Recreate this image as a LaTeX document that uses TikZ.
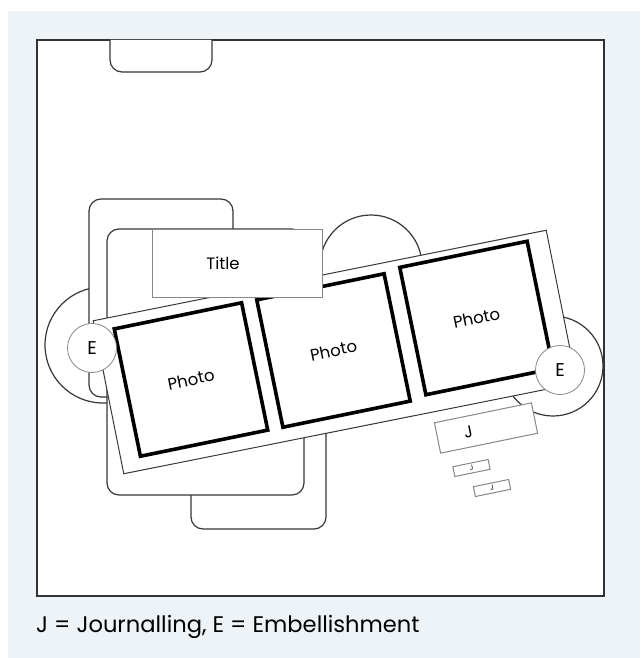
\documentclass[tikz,border=0pt]{standalone}
\usepackage{fontspec}
\setmainfont{Poppins}
\usetikzlibrary{positioning,calc}
\definecolor{panelbg}{RGB}{237,243,246}
\definecolor{inkgrey}{RGB}{55,55,55}
\definecolor{framegrey}{RGB}{50,50,50}
\definecolor{softgrey}{RGB}{135,135,135}
\tikzset{
  base/.style={font=\fontsize{16.5}{19}\selectfont, text=black, inner sep=0pt, align=center},
  mat/.style={draw=inkgrey, fill=white, line width=1.2pt, rounded corners=12pt},
  bump/.style={draw=inkgrey, fill=white, line width=1.2pt},
  card/.style={base, rectangle, draw=inkgrey, fill=white, line width=1pt, rotate=11.3, minimum width=462pt, minimum height=156pt},
  photo/.style={base, rectangle, draw=black, fill=white, line width=3.6pt, rotate=11.6, minimum width=130pt, minimum height=130pt},
  embel/.style={base, circle, draw=softgrey, fill=white, line width=0.8pt, minimum size=49pt, font=\fontsize{18.5}{21}\selectfont},
  titlebox/.style={base, rectangle, draw=softgrey, fill=white, line width=1pt, minimum width=170pt, minimum height=68pt},
  jbox/.style={base, rectangle, draw=softgrey, fill=white, line width=1pt, rotate=11.6},
  lbl/.style={base, font=\fontsize{22.6}{26}\selectfont},
}
\begin{document}
\begin{tikzpicture}[x=1pt,y=-1pt]
  \useasboundingbox (0,0) rectangle (640,658);
  \fill[white] (0,0) rectangle (640,658);
  \fill[panelbg] (8,11) rectangle (640,658);
  % page
  \draw[framegrey, fill=white, line width=1.8pt] (37,40) rectangle (604,596);
  \draw[mat] (110,40) -- (110,72) -- (212,72) -- (212,40);
  % half circles behind
  \draw[bump] (103,345) circle[radius=58pt];
  \draw[bump] (371,266) circle[radius=51pt];
  \draw[bump] (553,366) circle[radius=50pt];
  % mats
  \draw[mat] (89,199) rectangle (233,397);
  \draw[mat] (191,340) rectangle (326,529);
  \draw[mat] (107,229) rectangle (304,495);
  % card with photos
  \node[card] (card) at (335,352) {};
  \node[photo] (ph1) at (191,379.5) {Photo};
  \node[photo] (ph2) at (333.5,350.5) {Photo};
  \node[photo] (ph3) at (476.5,318) {Photo};
  \node[titlebox] (title) at (237,263) {Title\hspace{28pt}};
  \node[embel] (e1) at (92,348) {E};
  \node[embel] (e2) at (560,370) {E};
  % journalling
  \node[jbox, minimum width=99pt, minimum height=31pt] (j1) at (486,428) {\raisebox{-4pt}{J}\hspace{36pt}};
  \node[jbox, minimum width=36pt, minimum height=10pt, font=\fontsize{7}{8}\selectfont] (j2) at (471.5,468) {J};
  \node[jbox, minimum width=36pt, minimum height=10pt, font=\fontsize{7}{8}\selectfont] (j3) at (492,488) {J};
  % legend
  \node[lbl, anchor=west] (legend) at (36,627) {J = Journalling, E = Embellishment};
\end{tikzpicture}
\end{document}
